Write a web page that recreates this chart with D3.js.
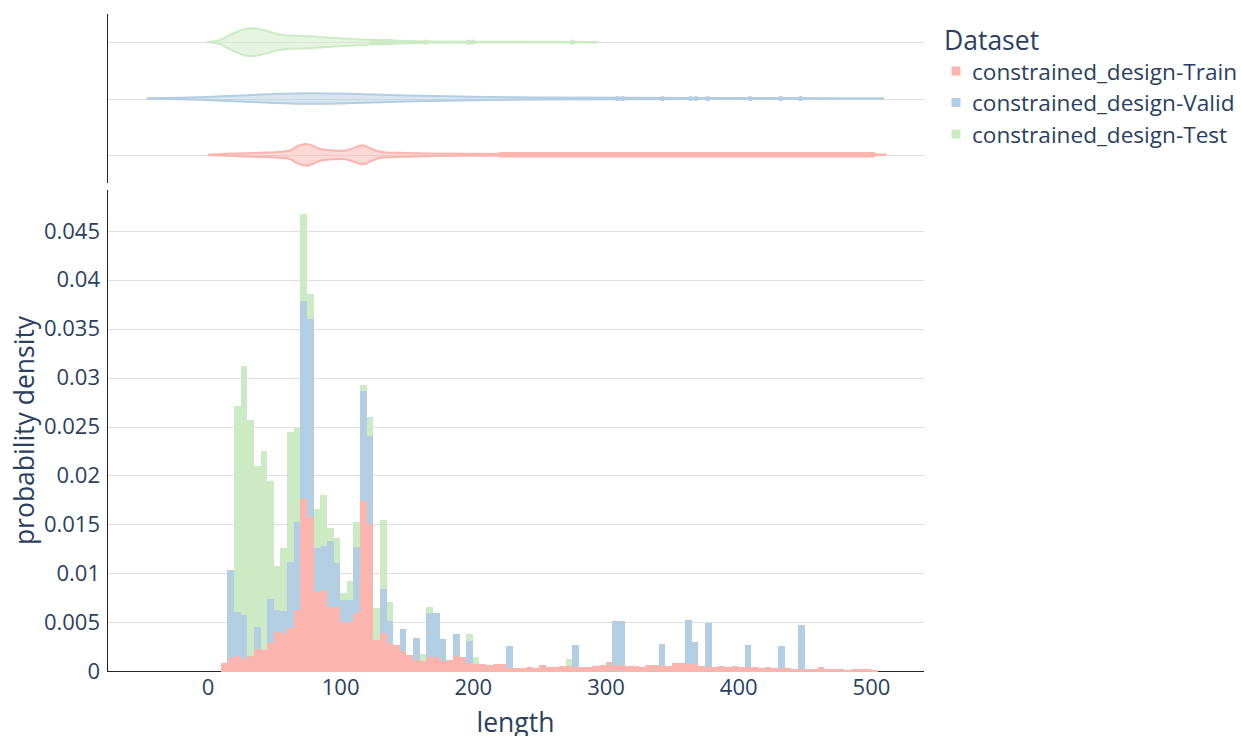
<!DOCTYPE html>
<html>
<head>
<meta charset="utf-8">
<script src="https://cdn.jsdelivr.net/npm/d3@7"></script>
<style>
    body { margin: 0; background: #fff; }
    text { font-family: "Open Sans", verdana, arial, sans-serif; fill: #2a3f5f; }
</style>
</head>
<body>
<div id="chart-area"></div>
<script>
// datasets (bottom of the stack first)
const datasets = ["constrained_design-Train", "constrained_design-Valid", "constrained_design-Test"]
const colors = ["#fbb4ae", "#b3cde3", "#ccebc5"]

// histogram bins on length, 5 wide
const BIN_SIZE = 5
const binStarts = d3.range(10, 505, BIN_SIZE)

// probability density per bin, one array per dataset
const trainDensity = [
    0.0008, 0.00137, 0.00157, 0.0012, 0.00154, 0.0022, 0.00215, 0.00283, 0.004, 0.00386,
    0.00444, 0.00625, 0.01759, 0.01574, 0.00813, 0.00833, 0.00656, 0.00656, 0.00502, 0.00502,
    0.00594, 0.01738, 0.01506, 0.00318, 0.0039, 0.00287, 0.00266, 0.00205, 0.00164, 0.00116,
    0.00102, 0.0014, 0.0014, 0.00102, 0.00112, 0.00153, 0.00143, 0.00082, 0.00072, 0.00072,
    0.00061, 0.00072, 0.00072, 0.00031, 0.00031, 0.00031, 0.00041, 0.00031, 0.00061, 0.00041,
    0.00041, 0.00051, 0.00051, 0.00041, 0.00041, 0.00041, 0.00051, 0.00061, 0.00092, 0.00061,
    0.00061, 0.00051, 0.00051, 0.00041, 0.00061, 0.00061, 0.00051, 0.00051, 0.00082, 0.00082,
    0.00072, 0.00072, 0.00051, 0.00041, 0.00041, 0.00051, 0.00041, 0.00051, 0.00041, 0.00041,
    0.00041, 0.00031, 0.00041, 0.00031, 0.00031, 0.00031, 0.0002, 0.0002, 0.0002, 0.0002,
    0.00041, 0.0002, 0.0002, 0.0002, 0.0001, 0.0002, 0.0002, 0.0002, 0.0001
]
const validDensity = [
    0, 0.009, 0.0045, 0.0045, 0, 0.00225, 0, 0.0045, 0.00225, 0.00225,
    0.00674, 0.009, 0.02022, 0.02022, 0.0045, 0.0045, 0.00674, 0.0045, 0.00225, 0.00225,
    0.00674, 0.01124, 0.009, 0, 0.0045, 0.00225, 0, 0.00225, 0, 0.00225,
    0, 0.0045, 0.0045, 0.00225, 0, 0.00225, 0, 0.00225, 0, 0,
    0, 0, 0, 0.00225, 0, 0, 0, 0, 0, 0,
    0, 0, 0, 0.00225, 0, 0, 0, 0, 0, 0.0045,
    0.0045, 0, 0, 0, 0, 0, 0.00225, 0, 0, 0,
    0.0045, 0.00225, 0, 0.0045, 0, 0, 0, 0, 0, 0.00225,
    0, 0, 0, 0, 0.00225, 0, 0, 0.0045, 0, 0,
    0, 0, 0, 0, 0, 0, 0, 0, 0
]
const testDensity = [
    0, 0, 0.021, 0.02551, 0.02416, 0.01656, 0.02039, 0.01209, 0.00451, 0.00645,
    0.01329, 0.0096, 0.0089, 0.00256, 0.00389, 0.00513, 0.00133, 0.00256, 0.00073, 0.00195,
    0.00257, 0.00068, 0.00194, 0.00327, 0.00707, 0.00195, 0, 0, 0, 0,
    0.00072, 0.00068, 0, 0, 0, 0, 0, 0.00071, 0.00071, 0,
    0, 0, 0, 0, 0, 0, 0, 0, 0, 0,
    0, 0, 0.00072, 0, 0, 0, 0, 0, 0, 0,
    0, 0, 0, 0, 0, 0, 0, 0, 0, 0,
    0, 0, 0, 0, 0, 0, 0, 0, 0, 0,
    0, 0, 0, 0, 0, 0, 0, 0, 0, 0,
    0, 0, 0, 0, 0, 0, 0, 0, 0
]

// tick labels
const xTicks = [0, 100, 200, 300, 400, 500]
const yTicks = [0, 0.005, 0.01, 0.015, 0.02, 0.025, 0.03, 0.035, 0.04, 0.045]

// marginal violins: [length, relative half width]
const trainViolin = [[1, 0.01], [19, 0.09], [44, 0.16], [58, 0.24], [63, 0.33], [67, 0.58], [74.5, 0.78],
    [80, 0.62], [85, 0.42], [95, 0.31], [103, 0.29], [110, 0.48], [117, 0.68], [124, 0.42], [131, 0.21],
    [145, 0.14], [170, 0.09], [196, 0.07], [260, 0.05], [400, 0.03], [511, 0.02]]
const validViolin = [[-45, 0.02], [-20, 0.05], [0, 0.1], [25, 0.21], [50, 0.32], [79, 0.38], [110, 0.33],
    [150, 0.21], [200, 0.12], [250, 0.08], [320, 0.05], [420, 0.04], [509, 0.02]]
const testViolin = [[0, 0.01], [9, 0.14], [19, 0.6], [26, 0.88], [32, 1.0], [38, 0.95], [45, 0.8], [52, 0.6],
    [58, 0.5], [66, 0.46], [76, 0.43], [90, 0.34], [105, 0.25], [120, 0.18], [135, 0.13], [150, 0.08],
    [165, 0.05], [200, 0.03], [294, 0.02]]

// outlier points, and runs where the points sit so close they form a bar
const trainOutliers = []
const trainOutlierRuns = [[221, 502]]
const validOutliers = [309, 313, 343, 364, 368, 377, 409, 432, 447]
const validOutlierRuns = []
const testOutliers = [165, 197, 200, 275]
const testOutlierRuns = [[124, 140]]

const WIDTH = 1241
const HEIGHT = 736
const MAIN = { LEFT: 107, RIGHT: 924, TOP: 190, BOTTOM: 671 }
const MARGINAL = { TOP: 14, BOTTOM: 183 }
const AXIS_COLOR = "#242424"
const GRID_COLOR = "#dedede"

const svg = d3.select("#chart-area").append("svg")
    .attr("width", WIDTH)
    .attr("height", HEIGHT)

// scales
const x = d3.scaleLinear().domain([-75.7, 540]).range([MAIN.LEFT, MAIN.RIGHT])
const y = d3.scaleLinear().domain([0, 0.0492]).range([MAIN.BOTTOM, MAIN.TOP])
const yCat = d3.scalePoint()
    .domain(datasets.slice().reverse())
    .range([MARGINAL.TOP, MARGINAL.BOTTOM])
    .padding(0.5)
const halfWidth = d3.scaleLinear().domain([0, 1]).range([0, 14])

// grid lines
svg.append("g").selectAll("line")
    .data(yTicks.filter(d => d > 0))
    .join("line")
    .attr("x1", MAIN.LEFT).attr("x2", MAIN.RIGHT)
    .attr("y1", d => Math.round(y(d)) + 0.5)
    .attr("y2", d => Math.round(y(d)) + 0.5)
    .attr("stroke", GRID_COLOR)
svg.append("g").selectAll("line")
    .data(datasets)
    .join("line")
    .attr("x1", MAIN.LEFT).attr("x2", MAIN.RIGHT)
    .attr("y1", d => Math.round(yCat(d)) + 0.5)
    .attr("y2", d => Math.round(yCat(d)) + 0.5)
    .attr("stroke", GRID_COLOR)

// x axis line goes under the bars
svg.append("line")
    .attr("x1", MAIN.LEFT).attr("x2", MAIN.RIGHT)
    .attr("y1", MAIN.BOTTOM + 0.5).attr("y2", MAIN.BOTTOM + 0.5)
    .attr("stroke", AXIS_COLOR)

// stacked histogram
const rows = binStarts.map((b, i) => ({
    start: b,
    [datasets[0]]: trainDensity[i],
    [datasets[1]]: validDensity[i],
    [datasets[2]]: testDensity[i]
}))
const stacked = d3.stack().keys(datasets)(rows)

svg.append("g").selectAll("g")
    .data(stacked)
    .join("g")
    .attr("fill", (d, i) => colors[i])
    .selectAll("rect")
    .data(d => d.filter(s => s[1] - s[0] > 0))
    .join("rect")
    .attr("shape-rendering", "crispEdges")
    .attr("x", d => x(d.data.start))
    .attr("width", d => x(d.data.start + BIN_SIZE) - x(d.data.start))
    .attr("y", d => y(d[1]))
    .attr("height", d => y(d[0]) - y(d[1]) + (d[0] === 0 ? 1 : 0))

// marginal violins
const violins = [
    { profile: trainViolin, points: trainOutliers, runs: trainOutlierRuns },
    { profile: validViolin, points: validOutliers, runs: validOutlierRuns },
    { profile: testViolin, points: testOutliers, runs: testOutlierRuns }
]
violins.forEach((v, i) => {
    const c = yCat(datasets[i])
    const area = d3.area()
        .x(d => x(d[0]))
        .y0(d => c - halfWidth(d[1]))
        .y1(d => c + halfWidth(d[1]))
        .curve(d3.curveMonotoneX)
    const g = svg.append("g")
    g.append("path")
        .attr("d", area(v.profile))
        .attr("fill", colors[i])
        .attr("fill-opacity", 0.5)
        .attr("stroke", colors[i])
        .attr("stroke-width", 2)
    g.selectAll("line.run")
        .data(v.runs)
        .join("line")
        .attr("class", "run")
        .attr("x1", d => x(d[0])).attr("x2", d => x(d[1]))
        .attr("y1", c).attr("y2", c)
        .attr("stroke", colors[i])
        .attr("stroke-width", 5.5)
        .attr("stroke-linecap", "round")
    g.selectAll("circle")
        .data(v.points)
        .join("circle")
        .attr("cx", d => x(d))
        .attr("cy", c)
        .attr("r", 2.6)
        .attr("fill", colors[i])
})

// axis lines on the left
svg.append("line")
    .attr("x1", MAIN.LEFT + 0.5).attr("x2", MAIN.LEFT + 0.5)
    .attr("y1", MAIN.TOP).attr("y2", MAIN.BOTTOM + 1)
    .attr("stroke", AXIS_COLOR)
svg.append("line")
    .attr("x1", MAIN.LEFT + 0.5).attr("x2", MAIN.LEFT + 0.5)
    .attr("y1", MARGINAL.TOP).attr("y2", MARGINAL.BOTTOM)
    .attr("stroke", AXIS_COLOR)

// tick labels
const xAxisCall = d3.axisBottom(x).tickValues(xTicks).tickSize(0).tickPadding(8)
const xAxis = svg.append("g")
    .attr("transform", `translate(0, ${MAIN.BOTTOM})`)
    .call(xAxisCall)
const yAxisCall = d3.axisLeft(y).tickValues(yTicks).tickSize(0).tickPadding(7)
    .tickFormat(d => String(+d.toFixed(3)))
const yAxis = svg.append("g")
    .attr("transform", `translate(${MAIN.LEFT}, 0)`)
    .call(yAxisCall)
;[xAxis, yAxis].forEach(a => {
    a.select(".domain").remove()
    a.selectAll("text")
        .attr("font-family", "Open Sans")
        .attr("font-size", "22px")
        .attr("fill", "#2a3f5f")
})

// axis titles (the reference crops the descender of "length" at the bottom edge)
svg.append("text")
    .attr("x", (MAIN.LEFT + MAIN.RIGHT) / 2)
    .attr("y", 732)
    .attr("font-size", "26.5px")
    .attr("text-anchor", "middle")
    .text("length")
svg.append("text")
    .attr("transform", `translate(34, ${(MAIN.TOP + MAIN.BOTTOM) / 2}) rotate(-90)`)
    .attr("font-size", "26.5px")
    .attr("text-anchor", "middle")
    .text("probability density")

// legend
const legend = svg.append("g").attr("transform", "translate(944, 0)")
legend.append("text")
    .attr("x", 0).attr("y", 50)
    .attr("font-size", "26.5px")
    .text("Dataset")
const items = legend.selectAll("g.item")
    .data(datasets)
    .join("g")
    .attr("class", "item")
    .attr("transform", (d, i) => `translate(0, ${71 + i * 31.5})`)
items.append("rect")
    .attr("x", 7.5).attr("y", -4.5)
    .attr("width", 9).attr("height", 9)
    .attr("fill", (d, i) => colors[i])
items.append("text")
    .attr("x", 28).attr("y", 8.5)
    .attr("font-size", "22.6px")
    .text(d => d)
</script>
</body>
</html>
